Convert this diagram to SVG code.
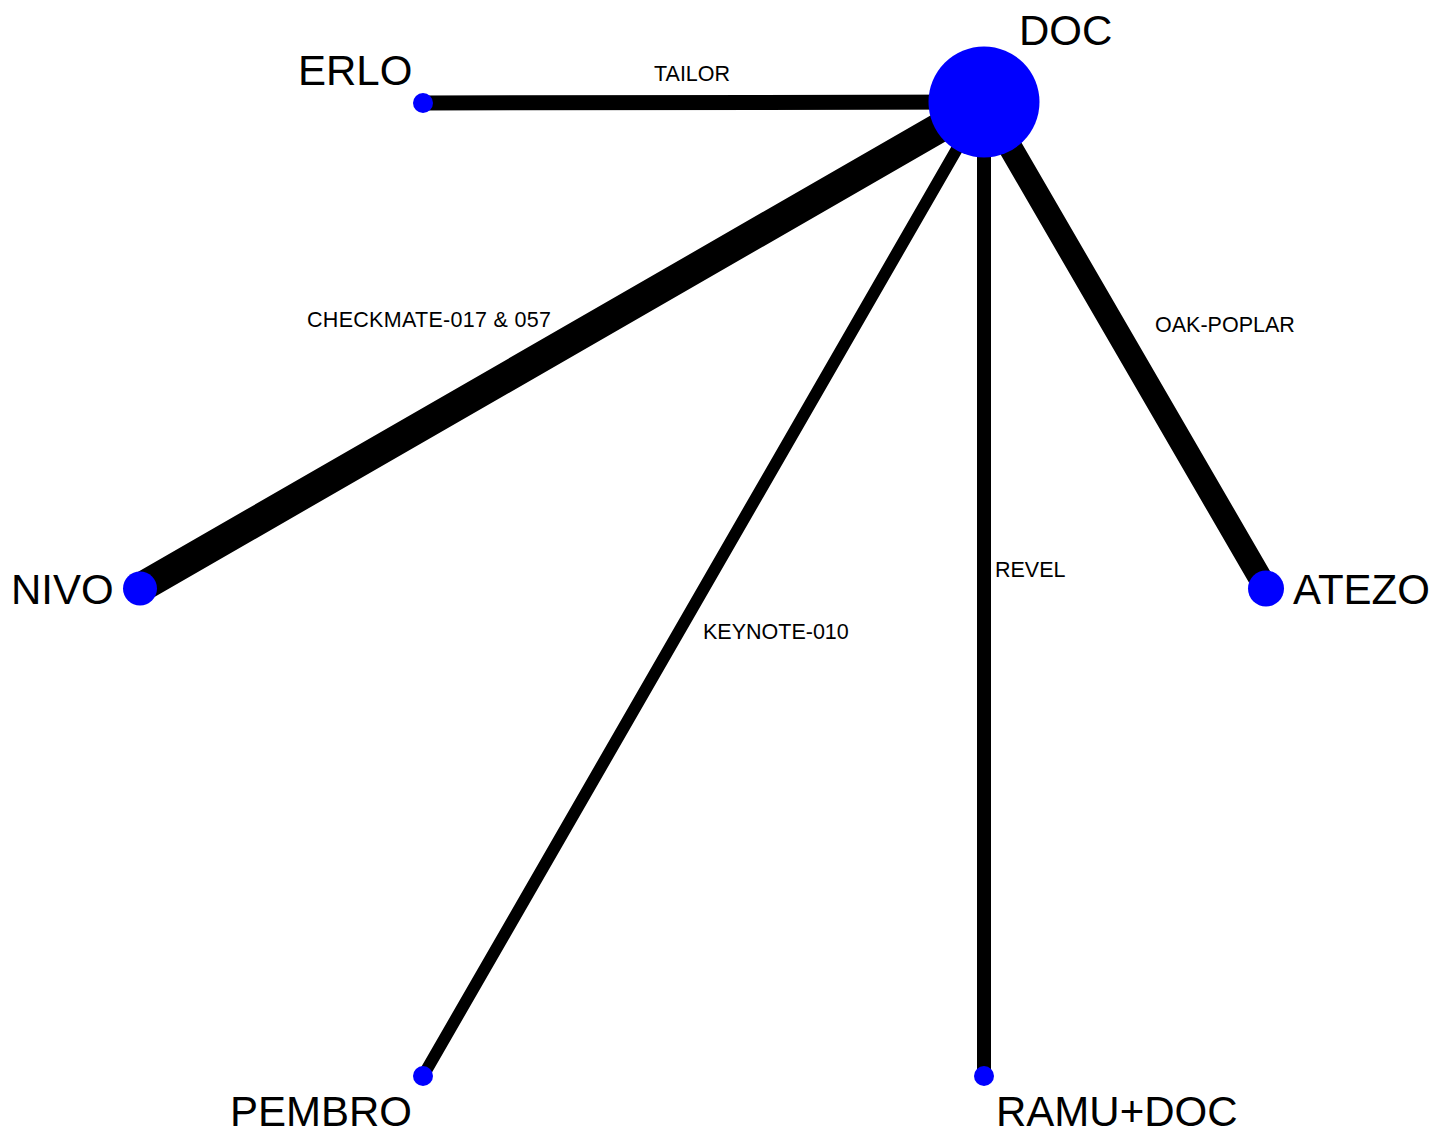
<svg xmlns="http://www.w3.org/2000/svg" width="1449" height="1136" viewBox="0 0 1449 1136">
<style>
.e{stroke:#000;stroke-linecap:round;fill:none}
.n{fill:#0000ff}
.big{font-family:"Liberation Sans",Arial,sans-serif;font-size:42px;fill:#000}
.lbl{font-family:"Liberation Sans",Arial,sans-serif;font-size:21.5px;fill:#000}
</style>
<rect width="1449" height="1136" fill="#fff"/>
<g id="connectors">
<line class="e" x1="984" y1="102" x2="423" y2="103" stroke-width="15"/>
<line class="e" x1="984" y1="102" x2="140" y2="588" stroke-width="30"/>
<line class="e" x1="984" y1="102" x2="423" y2="1076" stroke-width="12"/>
<line class="e" x1="984" y1="102" x2="984" y2="1076" stroke-width="14"/>
<line class="e" x1="984" y1="102" x2="1266" y2="588" stroke-width="24"/>
<text class="lbl" x="654" y="81">TAILOR</text>
<text class="lbl" x="307" y="327" textLength="244">CHECKMATE-017 &amp; 057</text>
<text class="lbl" x="1155" y="332">OAK-POPLAR</text>
<text class="lbl" x="995" y="577">REVEL</text>
<text class="lbl" x="703" y="639">KEYNOTE-010</text>
</g>
<g id="DOC"><circle class="n" cx="984" cy="102" r="55.5"/><text class="big" x="1019" y="45">DOC</text></g>
<g id="ERLO"><circle class="n" cx="423" cy="103" r="10"/><text class="big" x="298" y="85">ERLO</text></g>
<g id="NIVO"><circle class="n" cx="140" cy="588.5" r="17"/><text class="big" x="11" y="604">NIVO</text></g>
<g id="ATEZO"><circle class="n" cx="1266" cy="588.5" r="18"/><text class="big" x="1293" y="604">ATEZO</text></g>
<g id="PEMBRO"><circle class="n" cx="423" cy="1076" r="10"/><text class="big" x="230" y="1126">PEMBRO</text></g>
<g id="RAMU_DOC"><circle class="n" cx="984" cy="1076" r="10"/><text class="big" x="996" y="1126">RAMU+DOC</text></g>
</svg>
